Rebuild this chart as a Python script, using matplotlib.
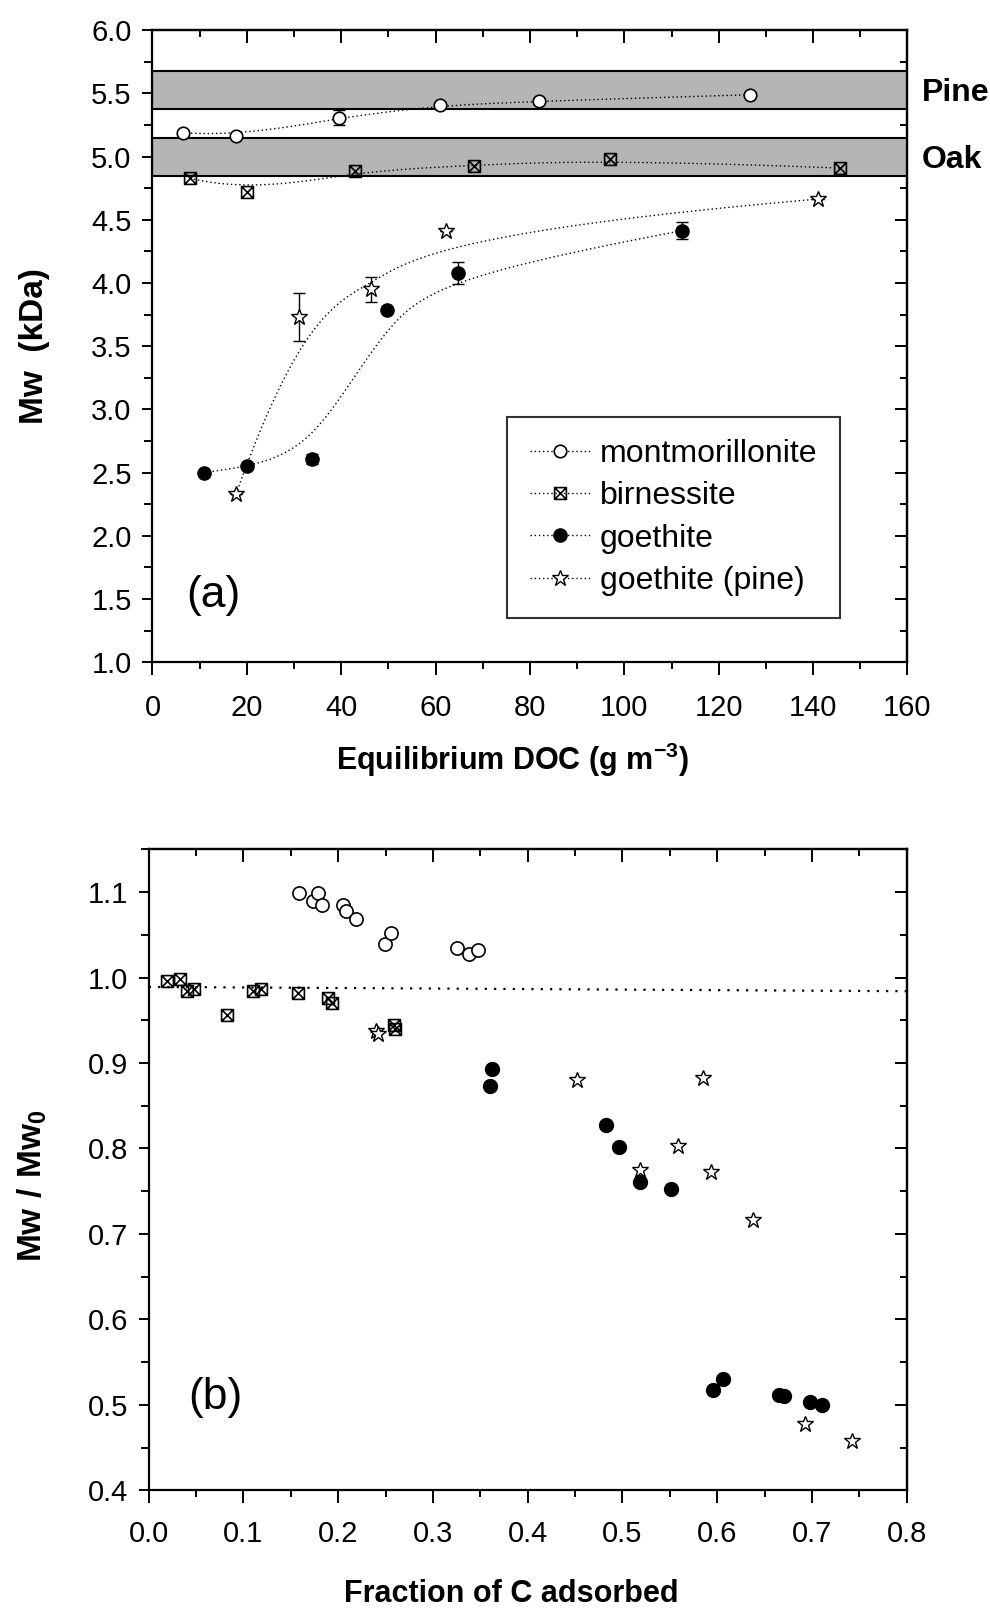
import numpy as np
import matplotlib
matplotlib.use('Agg')
import matplotlib.pyplot as plt
from matplotlib.path import Path
from matplotlib.lines import Line2D
from matplotlib.ticker import MultipleLocator, FormatStrFormatter

plt.rcParams['font.family'] = ['Liberation Sans', 'DejaVu Sans']
plt.rcParams['mathtext.fontset'] = 'custom'
plt.rcParams['mathtext.rm'] = 'Liberation Sans'
plt.rcParams['mathtext.bf'] = 'Liberation Sans:bold'

# ---------------- Panel (a) data ----------------
mont_x = [6.4, 17.8, 39.6, 61.0, 81.9, 126.7]
mont_y = [5.19, 5.16, 5.31, 5.41, 5.44, 5.49]
mont_err = [0, 0, 0.06, 0, 0, 0]
birn_x = [7.9, 20.1, 42.9, 68.1, 96.9, 145.8]
birn_y = [4.83, 4.72, 4.89, 4.93, 4.98, 4.91]
goe_x = [11.0, 20.1, 33.9, 49.8, 64.8, 112.3]
goe_y = [2.50, 2.55, 2.61, 3.79, 4.08, 4.415]
goe_err = [0, 0, 0.04, 0, 0.09, 0.07]
gpine_x = [17.7, 31.1, 46.4, 62.2, 141.1]
gpine_y = [2.33, 3.73, 3.95, 4.41, 4.665]
gpine_err = [0, 0.19, 0.10, 0, 0]
pine_band = (5.375, 5.68)
oak_band = (4.845, 5.145)
legend_labels = ['montmorillonite', 'birnessite', 'goethite', 'goethite (pine)']

# ---------------- Panel (b) data ----------------
b_mont_x = [0.159, 0.173, 0.179, 0.183, 0.205, 0.208, 0.219, 0.249, 0.256, 0.325, 0.338, 0.348]
b_mont_y = [1.099, 1.089, 1.099, 1.085, 1.085, 1.078, 1.068, 1.039, 1.052, 1.035, 1.027, 1.032]
b_birn_x = [0.019, 0.033, 0.040, 0.048, 0.083, 0.110, 0.118, 0.158, 0.189, 0.193, 0.259, 0.260]
b_birn_y = [0.996, 0.998, 0.984, 0.986, 0.956, 0.984, 0.987, 0.982, 0.976, 0.970, 0.945, 0.940]
b_goe_x = [0.362, 0.360, 0.483, 0.496, 0.518, 0.551, 0.596, 0.606, 0.665, 0.670, 0.698, 0.711]
b_goe_y = [0.893, 0.873, 0.827, 0.802, 0.761, 0.752, 0.517, 0.530, 0.512, 0.510, 0.503, 0.500]
b_gpine_x = [0.240, 0.242, 0.452, 0.518, 0.559, 0.585, 0.593, 0.638, 0.693, 0.742]
b_gpine_y = [0.938, 0.934, 0.880, 0.775, 0.803, 0.883, 0.772, 0.716, 0.478, 0.458]
ref_x = [0.0, 0.8]
ref_y = [0.989, 0.984]

# boxed-X marker
boxx = Path([(-1, -1), (1, -1), (1, 1), (-1, 1), (-1, -1),
             (-1, -1), (1, 1), (-1, 1), (1, -1)],
            [Path.MOVETO, Path.LINETO, Path.LINETO, Path.LINETO, Path.CLOSEPOLY,
             Path.MOVETO, Path.LINETO, Path.MOVETO, Path.LINETO])


def bspline(xs, ys, k=3, n=400):
    P = np.column_stack([xs, ys]).astype(float)
    m = len(P)
    k = min(k, m - 1)
    inner = np.linspace(0, 1, m - k + 1)
    t = np.concatenate([np.zeros(k), inner, np.ones(k)])
    u = np.linspace(0, 1 - 1e-9, n)
    N = np.zeros((len(t) - 1, n))
    for i in range(len(t) - 1):
        N[i] = (t[i] <= u) & (u < t[i + 1])
    for p in range(1, k + 1):
        Nn = np.zeros((len(t) - 1 - p, n))
        for i in range(len(t) - 1 - p):
            a = 0.0
            d1 = t[i + p] - t[i]
            d2 = t[i + p + 1] - t[i + 1]
            if d1 > 0:
                a = a + (u - t[i]) / d1 * N[i]
            if d2 > 0:
                a = a + (t[i + p + 1] - u) / d2 * N[i + 1]
            Nn[i] = a
        N = Nn
    C = N.T @ P
    return C[:, 0], C[:, 1]


fig = plt.figure(figsize=(9.9, 16.11), dpi=100)

TFS = 21     # tick labels
LFS = 23     # legend
XFS = 22     # x labels
YFS = 24     # y labels
dot = (0, (1, 2))

# ---------------- Panel (a) ----------------
ax = fig.add_axes([0.154, 0.5889, 0.7626, 0.3923])
ax.axhspan(*pine_band, facecolor='#b5b5b5', edgecolor='black', lw=1.5, zorder=1)
ax.axhspan(*oak_band, facecolor='#b5b5b5', edgecolor='black', lw=1.5, zorder=1)

mk = dict(color='black', ls='none', zorder=4)
series = [
    (mont_x, mont_y, mont_err, dict(marker='o', ms=9, mfc='white', mec='black', mew=1.2)),
    (birn_x, birn_y, None, dict(marker=boxx, ms=8.5, mfc='none', mec='black', mew=1.2)),
    (goe_x, goe_y, goe_err, dict(marker='o', ms=9.5, mfc='black', mec='black')),
    (gpine_x, gpine_y, gpine_err, dict(marker='*', ms=12, mfc='white', mec='black', mew=1.0)),
]
handles = []
for (xs, ys, err, st), lab in zip(series, legend_labels):
    cx, cy = bspline(xs, ys)
    ax.plot(cx, cy, color='black', lw=1.0, ls=dot, zorder=3)
    if err is not None:
        ax.errorbar(xs, ys, yerr=err, fmt='none', ecolor='black', elinewidth=1.0,
                    capsize=4.5, capthick=1.0, zorder=3)
    ax.plot(xs, ys, **st, **mk)
    handles.append(Line2D([], [], color='black', lw=1.0, ls=dot, **st))

ax.set_xlim(0, 160)
ax.set_ylim(1.0, 6.0)
ax.xaxis.set_major_locator(MultipleLocator(20))
ax.xaxis.set_minor_locator(MultipleLocator(10))
ax.yaxis.set_major_locator(MultipleLocator(0.5))
ax.yaxis.set_minor_locator(MultipleLocator(0.25))
ax.yaxis.set_major_formatter(FormatStrFormatter('%.1f'))

leg = ax.legend(handles, legend_labels, loc='lower right', bbox_to_anchor=(0.9106, 0.070),
                fontsize=LFS, frameon=True, fancybox=False, edgecolor='black',
                handlelength=1.9, handletextpad=0.3, labelspacing=0.38,
                borderpad=0.7, borderaxespad=0, numpoints=1)
leg.get_frame().set_linewidth(1.5)

ax.text(1.019, 5.5, 'Pine', transform=ax.get_yaxis_transform(), fontsize=LFS,
        fontweight='bold', va='center', ha='left')
ax.text(1.019, 4.97, 'Oak', transform=ax.get_yaxis_transform(), fontsize=LFS,
        fontweight='bold', va='center', ha='left')
ax.text(0.045, 0.105, '(a)', transform=ax.transAxes, fontsize=32, va='center', ha='left')

ax.set_xlabel(r'Equilibrium DOC (g m$^{\mathbf{-3}}$)', fontsize=XFS, fontweight='bold', labelpad=13)
ax.xaxis.label.set_x(0.477)
ax.set_ylabel('Mw  (kDa)', fontsize=YFS, fontweight='bold')
ax.yaxis.set_label_coords(-0.136, 0.5)

# ---------------- Panel (b) ----------------
bx = fig.add_axes([0.1502, 0.0749, 0.7657, 0.3979])
bx.plot(ref_x, ref_y, color='black', lw=1.6, ls=(0, (1, 3.2)), zorder=2)
bx.plot(b_mont_x, b_mont_y, marker='o', ms=9.5, mfc='white', mec='black', mew=1.2, **mk)
bx.plot(b_birn_x, b_birn_y, marker=boxx, ms=8.5, mfc='none', mec='black', mew=1.2, **mk)
bx.plot(b_goe_x, b_goe_y, marker='o', ms=10, mfc='black', mec='black', **mk)
bx.plot(b_gpine_x, b_gpine_y, marker='*', ms=12, mfc='white', mec='black', mew=1.0, **mk)
bx.set_xlim(0, 0.8)
bx.set_ylim(0.4, 1.15)
bx.xaxis.set_major_locator(MultipleLocator(0.1))
bx.xaxis.set_minor_locator(MultipleLocator(0.05))
bx.yaxis.set_major_locator(MultipleLocator(0.1))
bx.yaxis.set_minor_locator(MultipleLocator(0.05))
bx.xaxis.set_major_formatter(FormatStrFormatter('%.1f'))
bx.yaxis.set_major_formatter(FormatStrFormatter('%.1f'))
bx.text(0.052, 0.145, '(b)', transform=bx.transAxes, fontsize=32, va='center', ha='left')
bx.set_xlabel('Fraction of C adsorbed', fontsize=XFS, fontweight='bold', labelpad=23)
bx.xaxis.label.set_x(0.478)
bx.set_ylabel(r'$\mathbf{Mw\ /\ Mw_0}$', fontsize=YFS)
bx.yaxis.set_label_coords(-0.131, 0.475)

for a, xpad in ((ax, 14), (bx, 12)):
    for s in a.spines.values():
        s.set_linewidth(1.6)
    a.tick_params(which='both', direction='out', labelsize=TFS, width=1.4, pad=8)
    a.tick_params(axis='x', which='major', length=9, pad=xpad)
    a.tick_params(axis='x', which='minor', length=5)
    a.tick_params(axis='y', which='major', length=7)
    a.tick_params(axis='y', which='minor', length=6)
    top = a.secondary_xaxis('top')
    top.xaxis.set_major_locator(a.xaxis.get_major_locator())
    top.xaxis.set_minor_locator(a.xaxis.get_minor_locator())
    top.tick_params(which='both', direction='in', labeltop=False, width=1.4)
    top.tick_params(which='major', length=9)
    top.tick_params(which='minor', length=5)
    top.spines['top'].set_linewidth(1.6)
    right = a.secondary_yaxis('right')
    right.yaxis.set_major_locator(a.yaxis.get_major_locator())
    right.yaxis.set_minor_locator(a.yaxis.get_minor_locator())
    right.tick_params(which='both', direction='in', labelright=False, width=1.4)
    right.tick_params(which='major', length=9)
    right.tick_params(which='minor', length=5)
    right.spines['right'].set_linewidth(1.6)

fig.savefig('out.png', dpi=100)
